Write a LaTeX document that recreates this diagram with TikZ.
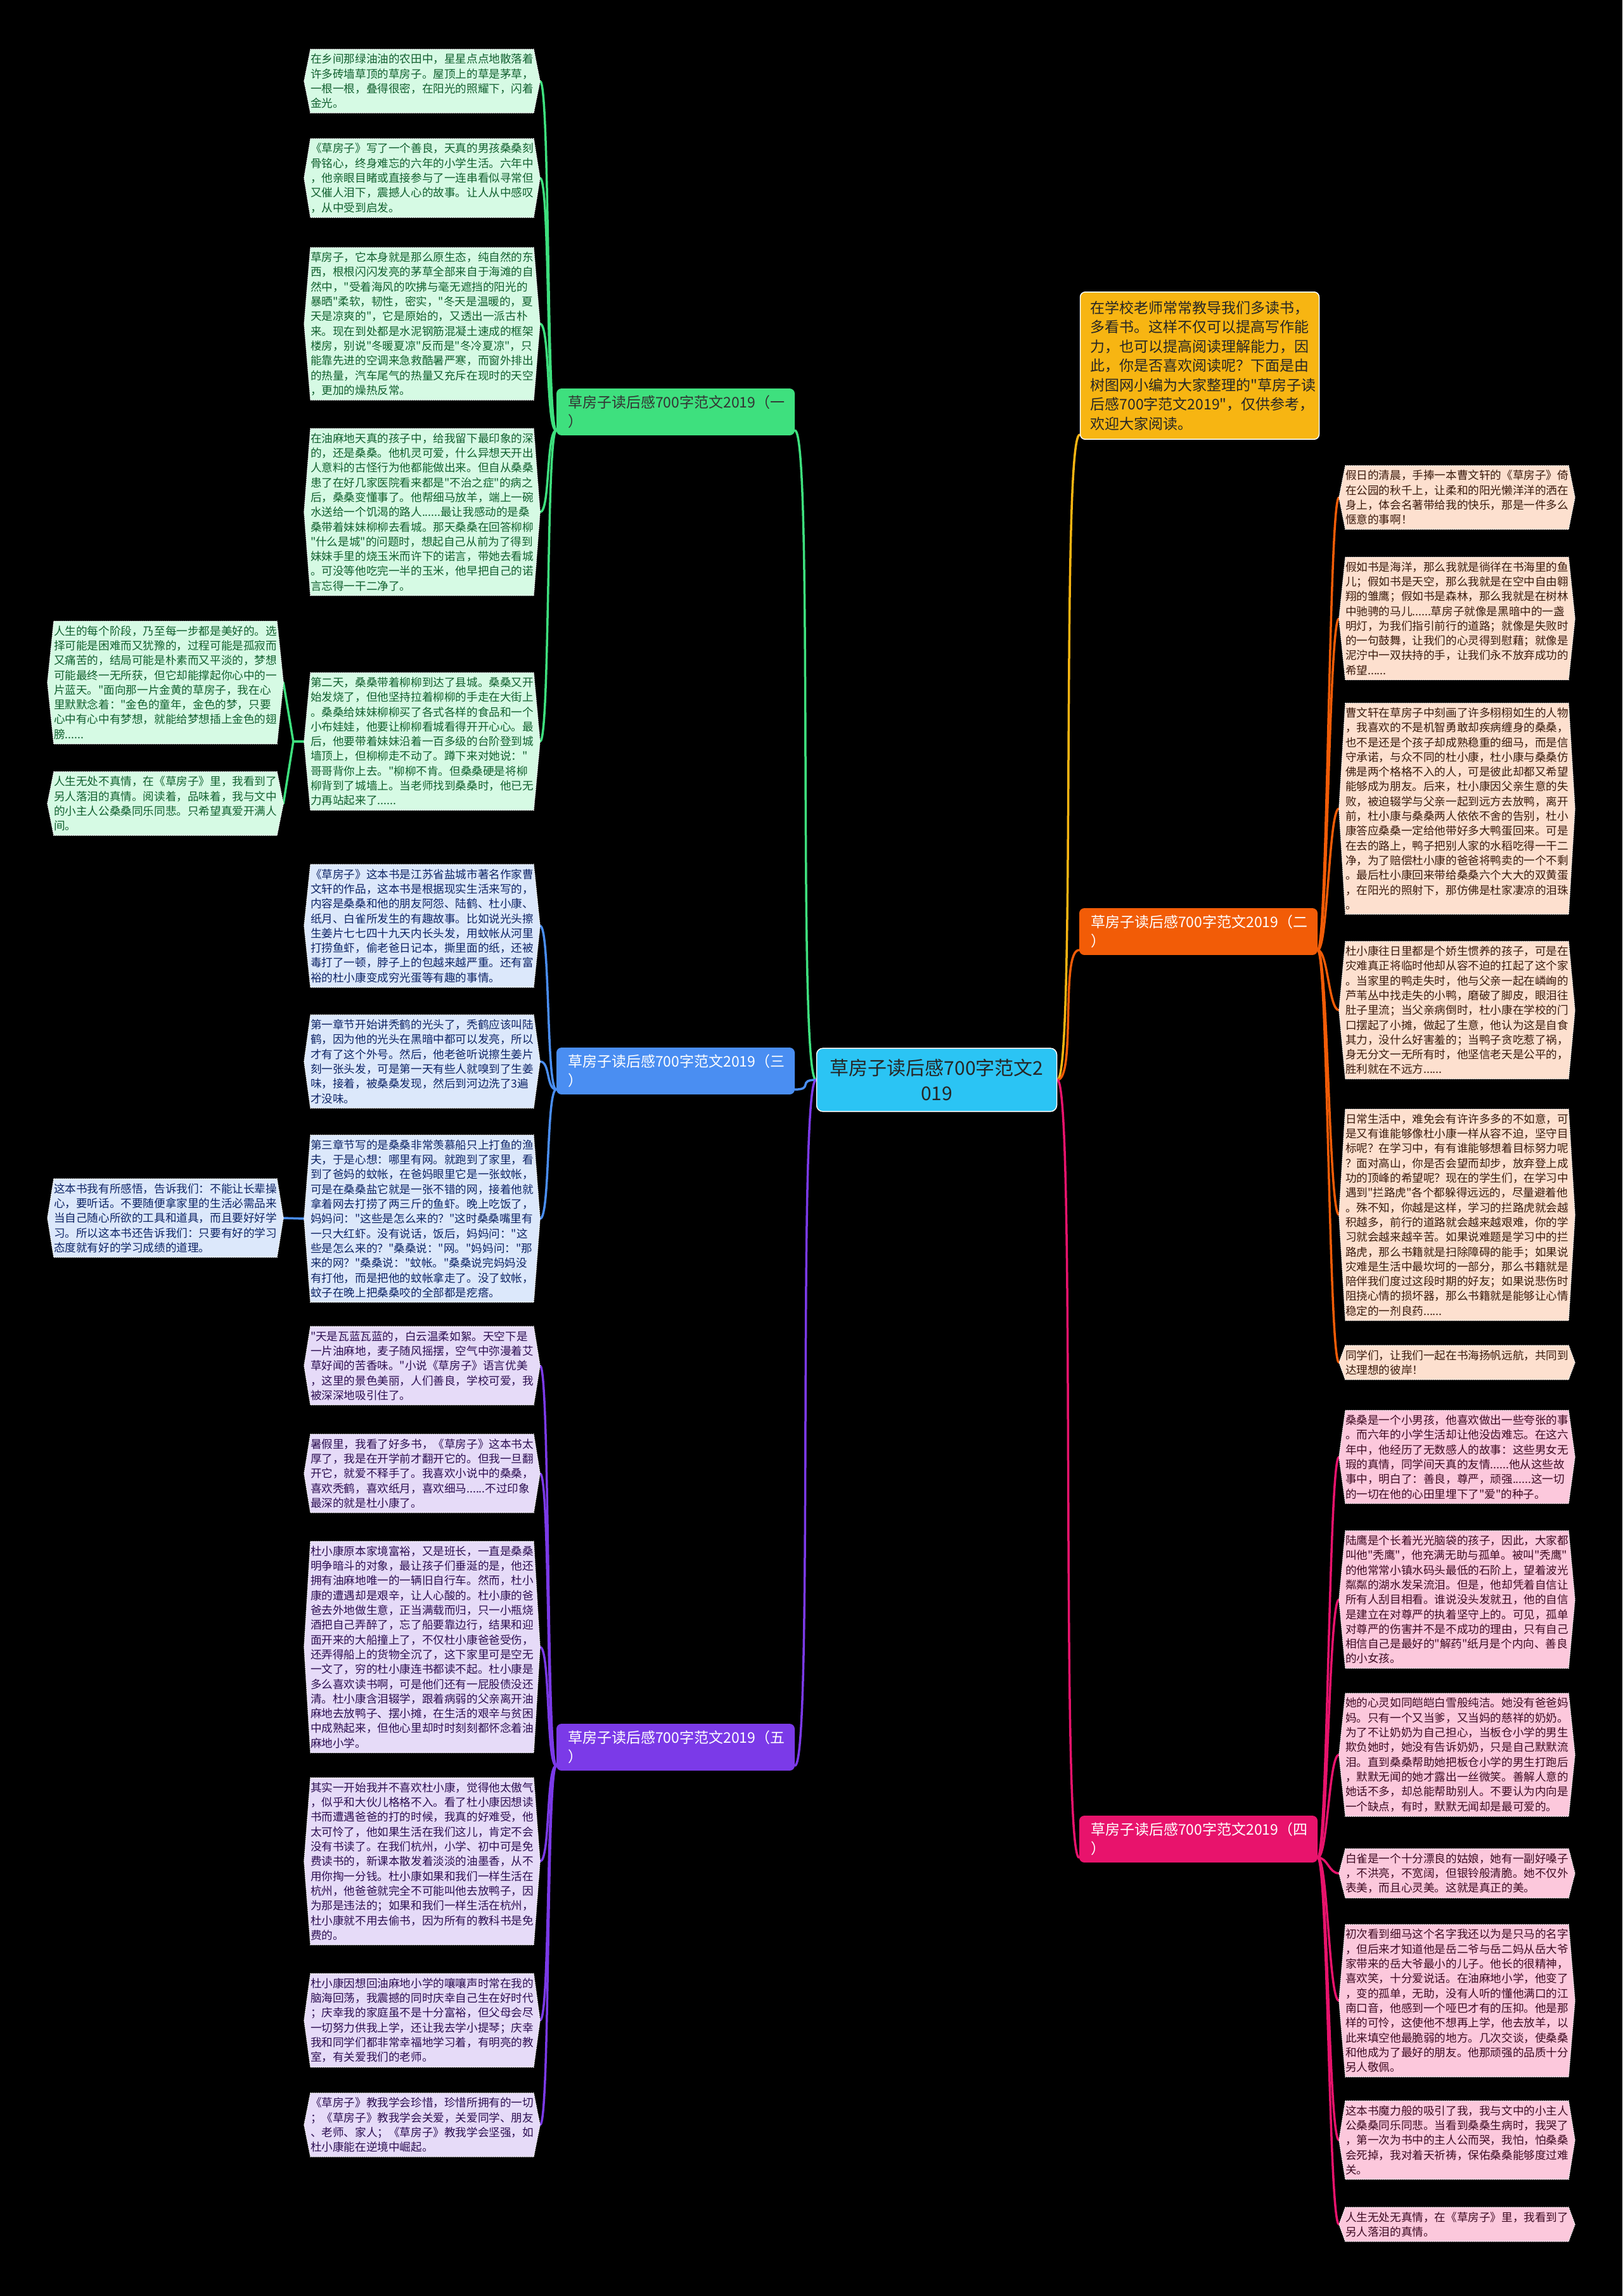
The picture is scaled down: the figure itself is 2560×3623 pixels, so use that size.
\documentclass[tikz,border=0pt]{standalone}
\usepackage{fontspec}
\setmainfont{Noto Sans CJK SC}[Ligatures=TeXOff]
\usetikzlibrary{calc}
\pgfdeclarelayer{bg}\pgfdeclarelayer{shp}
\pgfsetlayers{bg,shp,main}
\definecolor{gfill}{HTML}{D6FAE4}\definecolor{gtext}{HTML}{11602F}\definecolor{gline}{HTML}{3EE07E}
\definecolor{bfill}{HTML}{DCE8FB}\definecolor{btext}{HTML}{0E2466}\definecolor{bline}{HTML}{4A8EF2}
\definecolor{pfill}{HTML}{E6DBF8}\definecolor{ptext}{HTML}{2C0E52}\definecolor{pline}{HTML}{7B3AE8}
\definecolor{ofill}{HTML}{FDE0CF}\definecolor{otext}{HTML}{3A1A0C}\definecolor{oline}{HTML}{F25C07}
\definecolor{kfill}{HTML}{FCC8DC}\definecolor{ktext}{HTML}{3E0A22}\definecolor{kline}{HTML}{E8136C}
\definecolor{cfill}{HTML}{2BC4F4}\definecolor{yfill}{HTML}{F7B512}
\tikzset{
 tb/.style={text width=352pt,inner xsep=10pt,inner ysep=7pt,align=left,font=\fontsize{17.6}{23.3}\selectfont},
 br/.style={rounded corners=8pt,text width=340pt,inner xsep=18pt,inner ysep=11pt,align=left,font=\fontsize{23}{30}\selectfont},
 con/.style={line width=3.5pt,line cap=round}
}
\newcommand\tblock[5]{%
 \node[tb,text=#4text] (#1) at (#2,#3) {#5};
 \begin{pgfonlayer}{shp}
 \path[fill=#4fill,draw=white,line width=1.2pt,dash pattern=on 1.5pt off 1.5pt]
  ([xshift=10pt]#1.north west) -- ([xshift=-10pt]#1.north east) -- (#1.east)
  -- ([xshift=-10pt]#1.south east) -- ([xshift=10pt]#1.south west) -- (#1.west) -- cycle;
 \end{pgfonlayer}}
\begin{document}
\begin{tikzpicture}[x=1pt,y=-1pt]
\begin{pgfonlayer}{bg}
\fill[black] (0,0) rectangle (2560,3623);
\end{pgfonlayer}
\useasboundingbox (0,0) rectangle (2560,3623);

% center and branches
\node[rounded corners=10pt,fill=cfill,draw=white,line width=1.5pt,text=black!85,align=center,text width=345pt,inner xsep=17pt,inner ysep=17pt,font=\fontsize{30}{40}\selectfont] (C) at (1478,1704) {草房子读后感700字范文2\\019};
\node[br,fill=gline,text=black!80] (B1) at (1066,650) {草房子读后感700字范文2019（一\\）};
\node[br,fill=bline,text=white] (B3) at (1066,1690) {草房子读后感700字范文2019（三\\）};
\node[br,fill=pline,text=white] (B5) at (1066,2757) {草房子读后感700字范文2019（五\\）};
\node[br,fill=oline,text=white] (B2) at (1891,1470) {草房子读后感700字范文2019（二\\）};
\node[br,fill=kline,text=white] (B4) at (1891,2902) {草房子读后感700字范文2019（四\\）};
\node[rounded corners=8pt,fill=yfill,draw=white,line width=1.5pt,text=black!85,text width=345pt,inner xsep=16pt,inner ysep=14pt,align=left,font=\fontsize{23}{30.5}\selectfont] (I) at (1893,577) {在学校老师常常教导我们多读书，\\多看书。这样不仅可以提高写作能\\力，也可以提高阅读理解能力，因\\此，你是否喜欢阅读呢？下面是由\\树图网小编为大家整理的"草房子读\\后感700字范文2019"，仅供参考，\\欢迎大家阅读。};

% group 1 (green)
\tblock{L1}{666}{128}{g}{在乡间那绿油油的农田中，星星点点地散落着\\许多砖墙草顶的草房子。屋顶上的草是茅草，\\一根一根，叠得很密，在阳光的照耀下，闪着\\金光。}
\tblock{L2}{666}{281}{g}{《草房子》写了一个善良，天真的男孩桑桑刻\\骨铭心，终身难忘的六年的小学生活。六年中\\，他亲眼目睹或直接参与了一连串看似寻常但\\又催人泪下，震撼人心的故事。让人从中感叹\\，从中受到启发。}
\tblock{L3}{666}{511}{g}{草房子，它本身就是那么原生态，纯自然的东\\西，根根闪闪发亮的茅草全部来自于海滩的自\\然中，"受着海风的吹拂与毫无遮挡的阳光的\\暴晒"柔软，韧性，密实，"冬天是温暖的，夏\\天是凉爽的"，它是原始的，又透出一派古朴\\来。现在到处都是水泥钢筋混凝土速成的框架\\楼房，别说"冬暖夏凉"反而是"冬冷夏凉"，只\\能靠先进的空调来急救酷暑严寒，而窗外排出\\的热量，汽车尾气的热量又充斥在现时的天空\\，更加的燥热反常。}
\tblock{L4}{666}{808}{g}{在油麻地天真的孩子中，给我留下最印象的深\\的，还是桑桑。他机灵可爱，什么异想天开出\\人意料的古怪行为他都能做出来。但自从桑桑\\患了在好几家医院看来都是"不治之症"的病之\\后，桑桑变懂事了。他帮细马放羊，端上一碗\\水送给一个饥渴的路人......最让我感动的是桑\\桑带着妹妹柳柳去看城。那天桑桑在回答柳柳\\"什么是城"的问题时，想起自己从前为了得到\\妹妹手里的烧玉米而许下的诺言，带她去看城\\。可没等他吃完一半的玉米，他早把自己的诺\\言忘得一干二净了。}
\tblock{L5}{666}{1170}{g}{第二天，桑桑带着柳柳到达了县城。桑桑又开\\始发烧了，但他坚持拉着柳柳的手走在大街上\\。桑桑给妹妹柳柳买了各式各样的食品和一个\\小布娃娃，他要让柳柳看城看得开开心心。最\\后，他要带着妹妹沿着一百多级的台阶登到城\\墙顶上，但柳柳走不动了。蹲下来对她说："\\哥哥背你上去。"柳柳不肯。但桑桑硬是将柳\\柳背到了城墙上。当老师找到桑桑时，他已无\\力再站起来了......}
\tblock{F1}{261}{1077}{g}{人生的每个阶段，乃至每一步都是美好的。选\\择可能是困难而又犹豫的，过程可能是孤寂而\\又痛苦的，结局可能是朴素而又平淡的，梦想\\可能最终一无所获，但它却能撑起你心中的一\\片蓝天。"面向那一片金黄的草房子，我在心\\里默默念着："金色的童年，金色的梦，只要\\心中有心中有梦想，就能给梦想插上金色的翅\\膀......}
\tblock{F2}{261}{1268}{g}{人生无处不真情，在《草房子》里，我看到了\\另人落泪的真情。阅读着，品味着，我与文中\\的小主人公桑桑同乐同悲。只希望真爱开满人\\间。}

% group 3 (blue)
\tblock{L6}{666}{1461}{b}{《草房子》这本书是江苏省盐城市著名作家曹\\文轩的作品，这本书是根据现实生活来写的，\\内容是桑桑和他的朋友阿怨、陆鹤、杜小康、\\纸月、白雀所发生的有趣故事。比如说光头擦\\生姜片七七四十九天内长头发，用蚊帐从河里\\打捞鱼虾，偷老爸日记本，撕里面的纸，还被\\毒打了一顿，脖子上的包越来越严重。还有富\\裕的杜小康变成穷光蛋等有趣的事情。}
\tblock{L7}{666}{1675}{b}{第一章节开始讲秃鹤的光头了，秃鹤应该叫陆\\鹤，因为他的光头在黑暗中都可以发亮，所以\\才有了这个外号。然后，他老爸听说擦生姜片\\刻一张头发，可是第一天有些人就嗅到了生姜\\味，接着，被桑桑发现，然后到河边洗了3遍\\才没味。}
\tblock{L8}{666}{1923}{b}{第三章节写的是桑桑非常羡慕船只上打鱼的渔\\夫，于是心想：哪里有网。就跑到了家里，看\\到了爸妈的蚊帐，在爸妈眼里它是一张蚊帐，\\可是在桑桑盐它就是一张不错的网，接着他就\\拿着网去打捞了两三斤的鱼虾。晚上吃饭了，\\妈妈问："这些是怎么来的？"这时桑桑嘴里有\\一只大红虾。没有说话，饭后，妈妈问："这\\些是怎么来的？"桑桑说："网。"妈妈问："那\\来的网？"桑桑说："蚊帐。"桑桑说完妈妈没\\有打他，而是把他的蚊帐拿走了。没了蚊帐，\\蚊子在晚上把桑桑咬的全部都是疙瘩。}
\tblock{F3}{261}{1922}{b}{这本书我有所感悟，告诉我们：不能让长辈操\\心，要听话。不要随便拿家里的生活必需品来\\当自己随心所欲的工具和道具，而且要好好学\\习。所以这本书还告诉我们：只要有好的学习\\态度就有好的学习成绩的道理。}

% group 5 (purple)
\tblock{L9}{666}{2155}{p}{"天是瓦蓝瓦蓝的，白云温柔如絮。天空下是\\一片油麻地，麦子随风摇摆，空气中弥漫着艾\\草好闻的苦香味。"小说《草房子》语言优美\\，这里的景色美丽，人们善良，学校可爱，我\\被深深地吸引住了。}
\tblock{L10}{666}{2325}{p}{暑假里，我看了好多书，《草房子》这本书太\\厚了，我是在开学前才翻开它的。但我一旦翻\\开它，就爱不释手了。我喜欢小说中的桑桑，\\喜欢秃鹤，喜欢纸月，喜欢细马......不过印象\\最深的就是杜小康了。}
\tblock{L11}{666}{2599}{p}{杜小康原本家境富裕，又是班长，一直是桑桑\\明争暗斗的对象，最让孩子们垂涎的是，他还\\拥有油麻地唯一的一辆旧自行车。然而，杜小\\康的遭遇却是艰辛，让人心酸的。杜小康的爸\\爸去外地做生意，正当满载而归，只一小瓶烧\\酒把自己弄醉了，忘了船要靠边行，结果和迎\\面开来的大船撞上了，不仅杜小康爸爸受伤，\\还弄得船上的货物全沉了，这下家里可是空无\\一文了，穷的杜小康连书都读不起。杜小康是\\多么喜欢读书啊，可是他们还有一屁股债没还\\清。杜小康含泪辍学，跟着病弱的父亲离开油\\麻地去放鸭子、摆小摊，在生活的艰辛与贫困\\中成熟起来，但他心里却时时刻刻都怀念着油\\麻地小学。}
\tblock{L12}{666}{2937}{p}{其实一开始我并不喜欢杜小康，觉得他太傲气\\，似乎和大伙儿格格不入。看了杜小康因想读\\书而遭遇爸爸的打的时候，我真的好难受，他\\太可怜了，他如果生活在我们这儿，肯定不会\\没有书读了。在我们杭州，小学、初中可是免\\费读书的，新课本散发着淡淡的油墨香，从不\\用你掏一分钱。杜小康如果和我们一样生活在\\杭州，他爸爸就完全不可能叫他去放鸭子，因\\为那是违法的；如果和我们一样生活在杭州，\\杜小康就不用去偷书，因为所有的教科书是免\\费的。}
\tblock{L13}{666}{3188}{p}{杜小康因想回油麻地小学的嚷嚷声时常在我的\\脑海回荡，我震撼的同时庆幸自己生在好时代\\；庆幸我的家庭虽不是十分富裕，但父母会尽\\一切努力供我上学，还让我去学小提琴；庆幸\\我和同学们都非常幸福地学习着，有明亮的教\\室，有关爱我们的老师。}
\tblock{L14}{666}{3353}{p}{《草房子》教我学会珍惜，珍惜所拥有的一切\\；《草房子》教我学会关爱，关爱同学、朋友\\、老师、家人；《草房子》教我学会坚强，如\\杜小康能在逆境中崛起。}

% group 2 (orange)
\tblock{R1}{2299}{785}{o}{假日的清晨，手捧一本曹文轩的《草房子》倚\\在公园的秋千上，让柔和的阳光懒洋洋的洒在\\身上，体会名著带给我的快乐，那是一件多么\\惬意的事啊！}
\tblock{R2}{2299}{976}{o}{假如书是海洋，那么我就是徜徉在书海里的鱼\\儿；假如书是天空，那么我就是在空中自由翱\\翔的雏鹰；假如书是森林，那么我就是在树林\\中驰骋的马儿......草房子就像是黑暗中的一盏\\明灯，为我们指引前行的道路；就像是失败时\\的一句鼓舞，让我们的心灵得到慰藉；就像是\\泥泞中一双扶持的手，让我们永不放弃成功的\\希望......}
\tblock{R3}{2299}{1276}{o}{曹文轩在草房子中刻画了许多栩栩如生的人物\\，我喜欢的不是机智勇敢却疾病缠身的桑桑，\\也不是还是个孩子却成熟稳重的细马，而是信\\守承诺，与众不同的杜小康，杜小康与桑桑仿\\佛是两个格格不入的人，可是彼此却都又希望\\能够成为朋友。后来，杜小康因父亲生意的失\\败，被迫辍学与父亲一起到远方去放鸭，离开\\前，杜小康与桑桑两人依依不舍的告别，杜小\\康答应桑桑一定给他带好多大鸭蛋回来。可是\\在去的路上，鸭子把别人家的水稻吃得一干二\\净，为了赔偿杜小康的爸爸将鸭卖的一个不剩\\。最后杜小康回来带给桑桑六个大大的双黄蛋\\，在阳光的照射下，那仿佛是杜家凄凉的泪珠\\。}
\tblock{R4}{2299}{1594}{o}{杜小康往日里都是个娇生惯养的孩子，可是在\\灾难真正将临时他却从容不迫的扛起了这个家\\。当家里的鸭走失时，他与父亲一起在嶙峋的\\芦苇丛中找走失的小鸭，磨破了脚皮，眼泪往\\肚子里流；当父亲病倒时，杜小康在学校的门\\口摆起了小摊，做起了生意，他认为这是自食\\其力，没什么好害羞的；当鸭子贪吃惹了祸，\\身无分文一无所有时，他坚信老天是公平的，\\胜利就在不远方......}
\tblock{R5}{2299}{1917}{o}{日常生活中，难免会有许许多多的不如意，可\\是又有谁能够像杜小康一样从容不迫，坚守目\\标呢？在学习中，有有谁能够想着目标努力呢\\？面对高山，你是否会望而却步，放弃登上成\\功的顶峰的希望呢？现在的学生们，在学习中\\遇到"拦路虎"各个都躲得远远的，尽量避着他\\。殊不知，你越是这样，学习的拦路虎就会越\\积越多，前行的道路就会越来越艰难，你的学\\习就会越来越辛苦。如果说难题是学习中的拦\\路虎，那么书籍就是扫除障碍的能手；如果说\\灾难是生活中最坎坷的一部分，那么书籍就是\\陪伴我们度过这段时期的好友；如果说悲伤时\\阻挠心情的损坏器，那么书籍就是能够让心情\\稳定的一剂良药......}
\tblock{R6}{2299}{2150}{o}{同学们，让我们一起在书海扬帆远航，共同到\\达理想的彼岸！}

% group 4 (pink)
\tblock{R7}{2299}{2299}{k}{桑桑是一个小男孩，他喜欢做出一些夸张的事\\。而六年的小学生活却让他没齿难忘。在这六\\年中，他经历了无数感人的故事：这些男女无\\瑕的真情，同学间天真的友情......他从这些故\\事中，明白了：善良，尊严，顽强......这一切\\的一切在他的心田里埋下了"爱"的种子。}
\tblock{R8}{2299}{2524}{k}{陆鹰是个长着光光脑袋的孩子，因此，大家都\\叫他"秃鹰"，他充满无助与孤单。被叫"秃鹰"\\的他常常小镇水码头最低的石阶上，望着波光\\粼粼的湖水发呆流泪。但是，他却凭着自信让\\所有人刮目相看。谁说没头发就丑，他的自信\\是建立在对尊严的执着坚守上的。可见，孤单\\对尊严的伤害并不是不成功的理由，只有自己\\相信自己是最好的"解药"纸月是个内向、善良\\的小女孩。}
\tblock{R9}{2299}{2769}{k}{她的心灵如同皑皑白雪般纯洁。她没有爸爸妈\\妈。只有一个又当爹，又当妈的慈祥的奶奶。\\为了不让奶奶为自己担心，当板仓小学的男生\\欺负她时，她没有告诉奶奶，只是自己默默流\\泪。直到桑桑帮助她把板仓小学的男生打跑后\\，默默无闻的她才露出一丝微笑。善解人意的\\她话不多，却总能帮助别人。不要认为内向是\\一个缺点，有时，默默无闻却是最可爱的。}
\tblock{R10}{2299}{2956}{k}{白雀是一个十分漂良的姑娘，她有一副好嗓子\\，不洪亮，不宽阔，但银铃般清脆。她不仅外\\表美，而且心灵美。这就是真正的美。}
\tblock{R11}{2299}{3157}{k}{初次看到细马这个名字我还以为是只马的名字\\，但后来才知道他是岳二爷与岳二妈从岳大爷\\家带来的岳大爷最小的儿子。他长的很精神，\\喜欢笑，十分爱说话。在油麻地小学，他变了\\，变的孤单，无助，没有人听的懂他满口的江\\南口音，他感到一个哑巴才有的压抑。他是那\\样的可怜，这使他不想再上学，他去放羊，以\\此来填空他最脆弱的地方。几次交谈，使桑桑\\和他成为了最好的朋友。他那顽强的品质十分\\另人敬佩。}
\tblock{R12}{2299}{3377}{k}{这本书魔力般的吸引了我，我与文中的小主人\\公桑桑同乐同悲。当看到桑桑生病时，我哭了\\，第一次为书中的主人公而哭，我怕，怕桑桑\\会死掉，我对着天祈祷，保佑桑桑能够度过难\\关。}
\tblock{R13}{2299}{3510}{k}{人生无处无真情，在《草房子》里，我看到了\\另人落泪的真情。}

% connectors
\begin{pgfonlayer}{bg}
\draw[con,gline] (C.west) .. controls +(-30,0) and +(30,0) .. ([yshift=8pt]B1.south east);
\draw[con,bline] (C.west) .. controls +(-30,0) and +(30,0) .. ([yshift=8pt]B3.south east);
\draw[con,pline] (C.west) .. controls +(-30,0) and +(30,0) .. ([yshift=8pt]B5.south east);
\draw[con,yfill] (C.east) .. controls +(30,0) and +(-30,0) .. ([yshift=8pt]I.south west);
\draw[con,oline] (C.east) .. controls +(30,0) and +(-30,0) .. ([yshift=8pt]B2.south west);
\draw[con,kline] (C.east) .. controls +(30,0) and +(-30,0) .. ([yshift=8pt]B4.south west);
\foreach \n in {L1,L2,L3,L4,L5}
 \draw[con,gline] ([yshift=8pt]B1.south west) .. controls +(-16,0) and +(16,0) .. (\n.east);
\foreach \n in {L6,L7,L8}
 \draw[con,bline] ([yshift=8pt]B3.south west) .. controls +(-16,0) and +(16,0) .. (\n.east);
\foreach \n in {L9,L10,L11,L12,L13,L14}
 \draw[con,pline] ([yshift=8pt]B5.south west) .. controls +(-16,0) and +(16,0) .. (\n.east);
\foreach \n in {R1,R2,R3,R4,R5,R6}
 \draw[con,oline] ([yshift=8pt]B2.south east) .. controls +(16,0) and +(-16,0) .. (\n.west);
\foreach \n in {R7,R8,R9,R10,R11,R12,R13}
 \draw[con,kline] ([yshift=8pt]B4.south east) .. controls +(16,0) and +(-16,0) .. (\n.west);
\draw[con,gline] (L5.west) -- ++(-17,0) -- (F1.east);
\draw[con,gline] (L5.west) -- ++(-17,0) -- (F2.east);
\draw[con,bline] (L8.west) -- (F3.east);
\end{pgfonlayer}
\end{tikzpicture}
\end{document}
